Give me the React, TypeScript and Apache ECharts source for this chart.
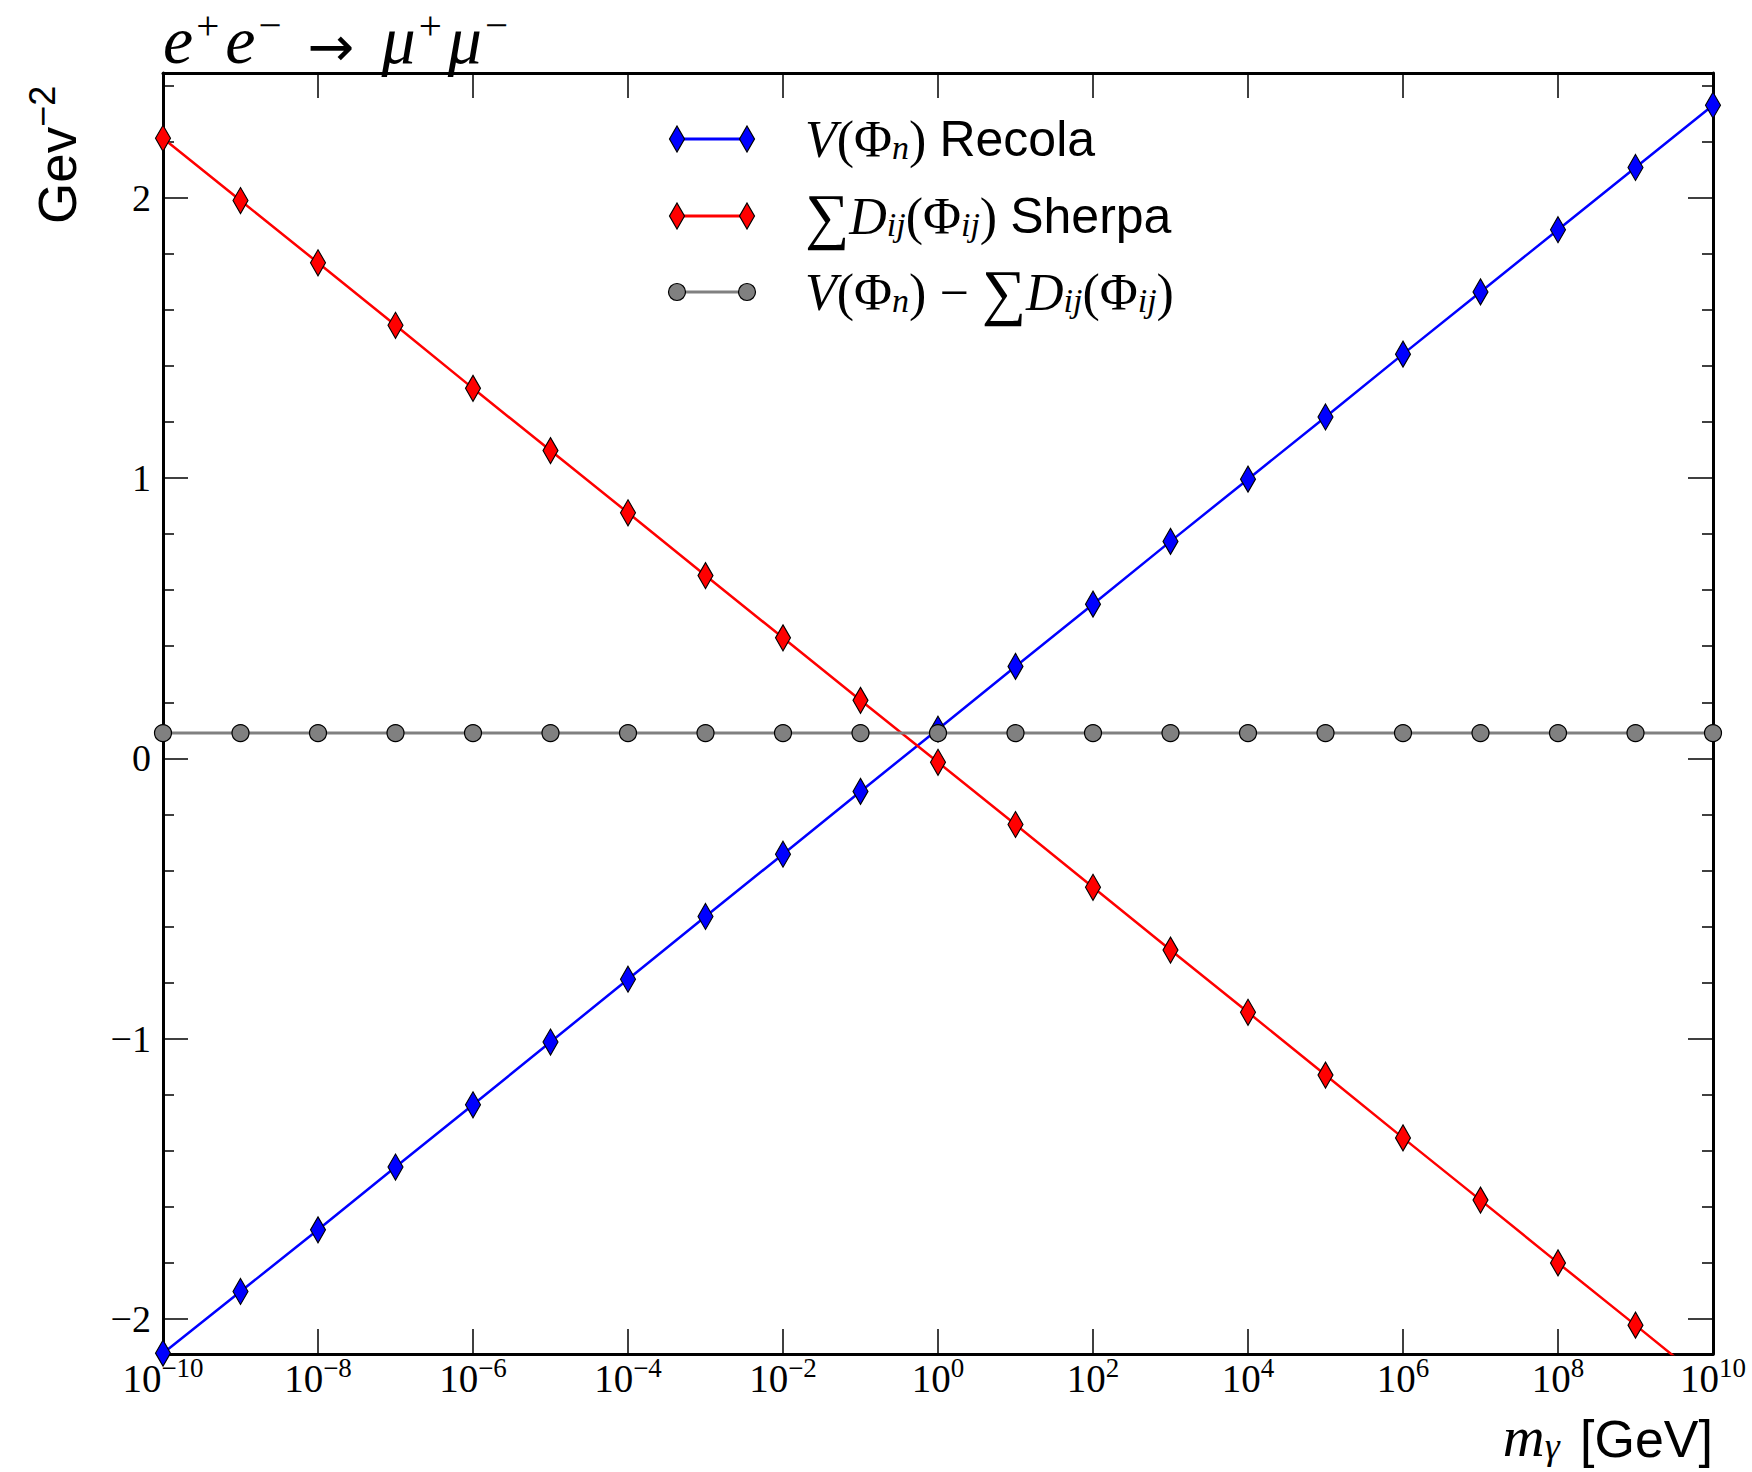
import React, { useEffect, useRef } from 'react';
import * as echarts from 'echarts';

// photon mass values (GeV), one per decade
const massGeV = [1e-10, 1e-9, 1e-8, 1e-7, 1e-6, 1e-5, 1e-4, 1e-3, 1e-2, 1e-1, 1e0, 1e1, 1e2, 1e3, 1e4, 1e5, 1e6, 1e7, 1e8, 1e9, 1e10];
// V(Phi_n) Recola
const recola = [-2.122, -1.902, -1.682, -1.458, -1.236, -1.012, -0.788, -0.564, -0.342, -0.118, 0.104, 0.328, 0.55, 0.774, 0.996, 1.218, 1.442, 1.664, 1.886, 2.108, 2.33];
// sum D_ij(Phi_ij) Sherpa
const sherpa = [2.212, 1.99, 1.768, 1.545, 1.32, 1.098, 0.876, 0.652, 0.43, 0.207, -0.014, -0.236, -0.46, -0.684, -0.906, -1.13, -1.354, -1.576, -1.8, -2.022, -2.246];
// difference
const difference = [0.09, 0.09, 0.09, 0.09, 0.09, 0.09, 0.09, 0.09, 0.09, 0.09, 0.09, 0.09, 0.09, 0.09, 0.09, 0.09, 0.09, 0.09, 0.09, 0.09, 0.09];

const seriesNames = ['V(Φn) Recola', '∑Dij(Φij) Sherpa', 'V(Φn) − ∑Dij(Φij)'];
const yMin = -2.125;
const yMax = 2.445;

const serif = '"Liberation Serif", "DejaVu Serif", serif';
const sans = '"Liberation Sans", Arial, sans-serif';

function iconSvg(kind: 'diamond' | 'circle', fill: string, line: string, lw: number) {
  const w = 133, h = 28, c1 = 10, c2 = 80, cy = 14;
  const marker = (cx: number) =>
    kind === 'diamond'
      ? `<polygon points="${cx},1 ${cx + 7.5},${cy} ${cx},27 ${cx - 7.5},${cy}" fill="${fill}" stroke="black" stroke-width="1.2"/>`
      : `<circle cx="${cx}" cy="${cy}" r="8.5" fill="${fill}" stroke="black" stroke-width="1.2"/>`;
  const svg = `<svg xmlns="http://www.w3.org/2000/svg" width="${w}" height="${h}" viewBox="0 0 ${w} ${h}"><line x1="${c1}" y1="${cy}" x2="${c2}" y2="${cy}" stroke="${line}" stroke-width="${lw}"/>${marker(c1)}${marker(c2)}</svg>`;
  return 'image://data:image/svg+xml;charset=utf-8,' + encodeURIComponent(svg);
}

const legendRich: Record<string, string> = {
  [seriesNames[0]]: '{cal|V}{r|(Φ}{sub|n}{r|) }{sans|Recola}',
  [seriesNames[1]]: '{sum|∑}{cal|D}{sub|ij}{r|(Φ}{sub|ij}{r|) }{sans|Sherpa}',
  [seriesNames[2]]: '{cal|V}{r|(Φ}{sub|n}{r|) − }{sum|∑}{cal|D}{sub|ij}{r|(Φ}{sub|ij}{r|)}',
};

function toPairs(ys: number[]) {
  return massGeV.map((m, i) => [m, ys[i]]);
}

function expLabel(v: number) {
  const e = Math.round(Math.log10(v));
  const s = e < 0 ? '−' + Math.abs(e) : String(e);
  return `{b|10}{s|${s}}`;
}

export default function App() {
  const ref = useRef<HTMLDivElement>(null);
  useEffect(() => {
    if (!ref.current) return;
    const chart = echarts.init(ref.current, undefined, { renderer: 'svg' });
    const xLabelRich = {
      b: { fontFamily: serif, fontSize: 39, lineHeight: 44, verticalAlign: 'bottom', color: '#000' },
      s: { fontFamily: serif, fontSize: 27, lineHeight: 26, verticalAlign: 'top', color: '#000' },
    };
    const yTickFormatter = (v: number) => {
      const r = Math.round(v);
      if (Math.abs(v - r) > 1e-6) return '';
      return r < 0 ? '−' + Math.abs(r) : String(r);
    };
    const commonX = {
      type: 'log',
      logBase: 10,
      min: 1e-10,
      max: 1e10,
      interval: 2,
      axisLine: { show: true, onZero: false, lineStyle: { color: '#000', width: 3 } },
      axisTick: { show: true, inside: true, length: 25, lineStyle: { color: '#000', width: 1.5 } },
      splitLine: { show: false },
      minorTick: { show: false },
    };
    const commonY = {
      type: 'value',
      min: yMin,
      max: yMax,
      minInterval: 1,
      maxInterval: 1,
      axisLine: { show: true, onZero: false, lineStyle: { color: '#000', width: 3 } },
      axisTick: { show: true, inside: true, length: 25, lineStyle: { color: '#000', width: 1.5 } },
      minorTick: { show: true, splitNumber: 5, length: 11, lineStyle: { color: '#000', width: 1.5 } },
      splitLine: { show: false },
      minorSplitLine: { show: false },
    };
    const legendTextStyle = {
      rich: {
        cal: { fontFamily: serif, fontStyle: 'italic', fontSize: 52, lineHeight: 50, color: '#000' },
        r: { fontFamily: serif, fontSize: 52, lineHeight: 50, color: '#000' },
        sub: { fontFamily: serif, fontStyle: 'italic', fontSize: 34, lineHeight: 24, verticalAlign: 'bottom', color: '#000' },
        sum: { fontFamily: serif, fontSize: 62, lineHeight: 50, color: '#000' },
        sans: { fontFamily: sans, fontSize: 50, lineHeight: 50, color: '#000' },
      },
    };
    const legendIcons = [
      iconSvg('diamond', '#0000ff', '#0000ff', 3),
      iconSvg('diamond', '#ff0000', '#ff0000', 3),
      iconSvg('circle', '#808080', '#808080', 3),
    ];
    const legendTops = [108, 180, 256];
    const legends = seriesNames.map((name, i) => ({
      orient: 'vertical',
      left: 662,
      top: legendTops[i],
      itemWidth: 133,
      itemHeight: 28,
      selectedMode: false,
      data: [{ name, icon: legendIcons[i] }],
      formatter: (n: string) => legendRich[n],
      textStyle: legendTextStyle,
    }));
    chart.setOption({
      animation: false,
      backgroundColor: '#fff',
      title: {
        text: '{i|e}{sup|+}{i|e}{sup|−}{arr|→}{i|μ}{sup|+}{i|μ}{sup|−}',
        left: 163,
        top: 4,
        padding: 0,
        textStyle: {
          fontWeight: 'normal',
          rich: {
            i: { fontFamily: serif, fontStyle: 'italic', fontWeight: 'normal', fontSize: 68, lineHeight: 70, verticalAlign: 'bottom', color: '#000' },
            arr: { fontFamily: '"DejaVu Sans", sans-serif', fontWeight: 'normal', fontSize: 56, lineHeight: 70, verticalAlign: 'bottom', padding: [0, 27, 0, 20], color: '#000' },
            sup: { fontFamily: serif, fontWeight: 'normal', fontSize: 41, lineHeight: 41, verticalAlign: 'top', padding: [0, 6, 0, 3], color: '#000' },
          },
        },
      },
      grid: { left: 163, right: 39, top: 73, bottom: 118, containLabel: false },
      legend: legends,
      xAxis: [
        {
          ...commonX,
          position: 'bottom',
          axisLabel: { show: true, interval: 0, margin: 0, formatter: expLabel, rich: xLabelRich },
        },
        {
          ...commonX,
          position: 'top',
          axisLabel: { show: false },
        },
      ],
      yAxis: [
        {
          ...commonY,
          position: 'left',
          axisLabel: { show: true, margin: 12, formatter: yTickFormatter, color: '#000', fontFamily: serif, fontSize: 38 },
        },
        {
          ...commonY,
          position: 'right',
          axisLabel: { show: false },
        },
      ],
      series: [
        {
          name: seriesNames[0],
          type: 'line',
          data: toPairs(recola),
          symbol: 'diamond',
          symbolSize: [15, 26],
          clip: true,
          lineStyle: { color: '#0000ff', width: 2.5 },
          itemStyle: { color: '#0000ff', borderColor: '#000', borderWidth: 1.2 },
        },
        {
          name: seriesNames[1],
          type: 'line',
          data: toPairs(sherpa),
          symbol: 'diamond',
          symbolSize: [15, 26],
          clip: true,
          lineStyle: { color: '#ff0000', width: 2.5 },
          itemStyle: { color: '#ff0000', borderColor: '#000', borderWidth: 1.2 },
        },
        {
          name: seriesNames[2],
          type: 'line',
          data: toPairs(difference),
          symbol: 'circle',
          symbolSize: 17,
          clip: true,
          lineStyle: { color: '#808080', width: 3 },
          itemStyle: { color: '#808080', borderColor: '#000', borderWidth: 1.2 },
        },
      ],
      graphic: [
        {
          type: 'text',
          x: 84,
          y: 224,
          rotation: Math.PI / 2,
          style: {
            text: '{a|Gev}{b|−2}',
            align: 'left',
            verticalAlign: 'bottom',
            rich: {
              a: { fontFamily: sans, fontSize: 53, lineHeight: 60, verticalAlign: 'bottom', fill: '#000' },
              b: { fontFamily: sans, fontSize: 36, lineHeight: 36, verticalAlign: 'top', fill: '#000' },
            },
          },
        },
        {
          type: 'text',
          x: 1713,
          y: 1465,
          style: {
            text: '{m|m}{g|γ}{s| [GeV]}',
            align: 'right',
            verticalAlign: 'bottom',
            rich: {
              m: { fontFamily: serif, fontStyle: 'italic', fontSize: 58, lineHeight: 60, verticalAlign: 'bottom', fill: '#000' },
              g: { fontFamily: serif, fontStyle: 'italic', fontSize: 38, lineHeight: 30, verticalAlign: 'bottom', padding: [0, 6, 0, 0], fill: '#000' },
              s: { fontFamily: sans, fontSize: 52, lineHeight: 60, verticalAlign: 'bottom', fill: '#000' },
            },
          },
        },
      ],
    });
    return () => chart.dispose();
  }, []);
  return <div ref={ref} style={{ position: 'absolute', left: 0, top: 0, width: 1752, height: 1472 }} />;
}
